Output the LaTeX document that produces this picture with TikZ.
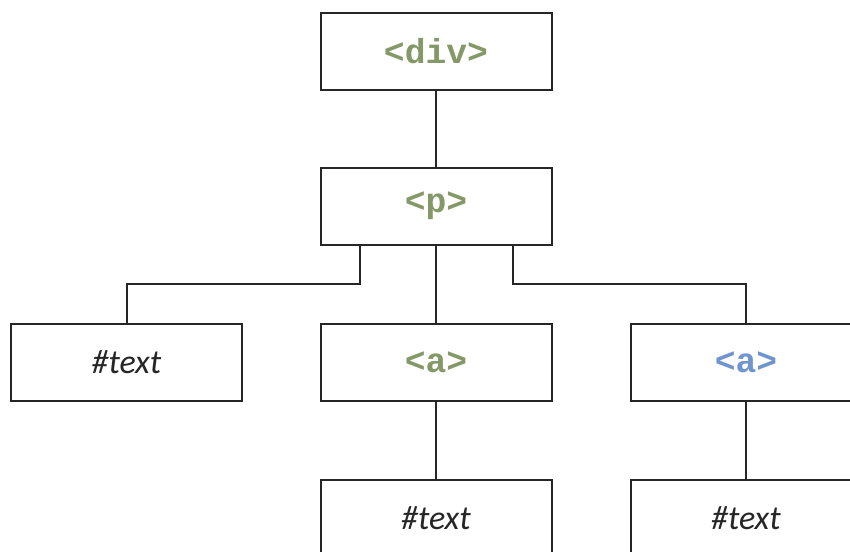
\documentclass[tikz,border=0pt]{standalone}
\usepackage{fontspec}
\setmainfont{Carlito}
\newfontfamily\tagfont{Liberation Mono}
\definecolor{taggreen}{RGB}{132,152,104}
\definecolor{tagblue}{RGB}{112,148,205}
\begin{document}
\begin{tikzpicture}[x=0.75pt,y=-0.75pt,
  box/.style={draw=black!85,line width=1.5pt,minimum width=173.25pt,minimum height=57.75pt,inner sep=0pt,fill=white},
  tag/.style={font=\tagfont\bfseries\fontsize{26}{30}\selectfont},
  txt/.style={font=\itshape\fontsize{25.5}{30}\selectfont,text=black!85},
  conn/.style={draw=black!85,line width=1.5pt}]
\clip (0,0) rectangle (850,551);
\useasboundingbox (0,0) rectangle (850,551);
\node[box,tag,text=taggreen] (div) at (436,51.5) {<div>};
\node[box,tag,text=taggreen] (p) at (436,206) {<p>};
\node[box,txt] (t1) at (126.5,362) {\#text};
\node[box,tag,text=taggreen] (a1) at (436,362) {<a>};
\node[box,tag,text=tagblue] (a2) at (746,362) {<a>};
\node[box,txt] (t2) at (436,518) {\#text};
\node[box,txt] (t3) at (746,518) {\#text};
\draw[conn] (div.south) -- (p.north);
\draw[conn] (p.south) -- (a1.north);
\draw[conn] (p.south -| 360,0) |- (0,284 -| t1.north) -- (t1.north);
\draw[conn] (p.south -| 513,0) |- (0,284 -| a2.north) -- (a2.north);
\draw[conn] (a1.south) -- (t2.north);
\draw[conn] (a2.south) -- (t3.north);
\end{tikzpicture}
\end{document}
